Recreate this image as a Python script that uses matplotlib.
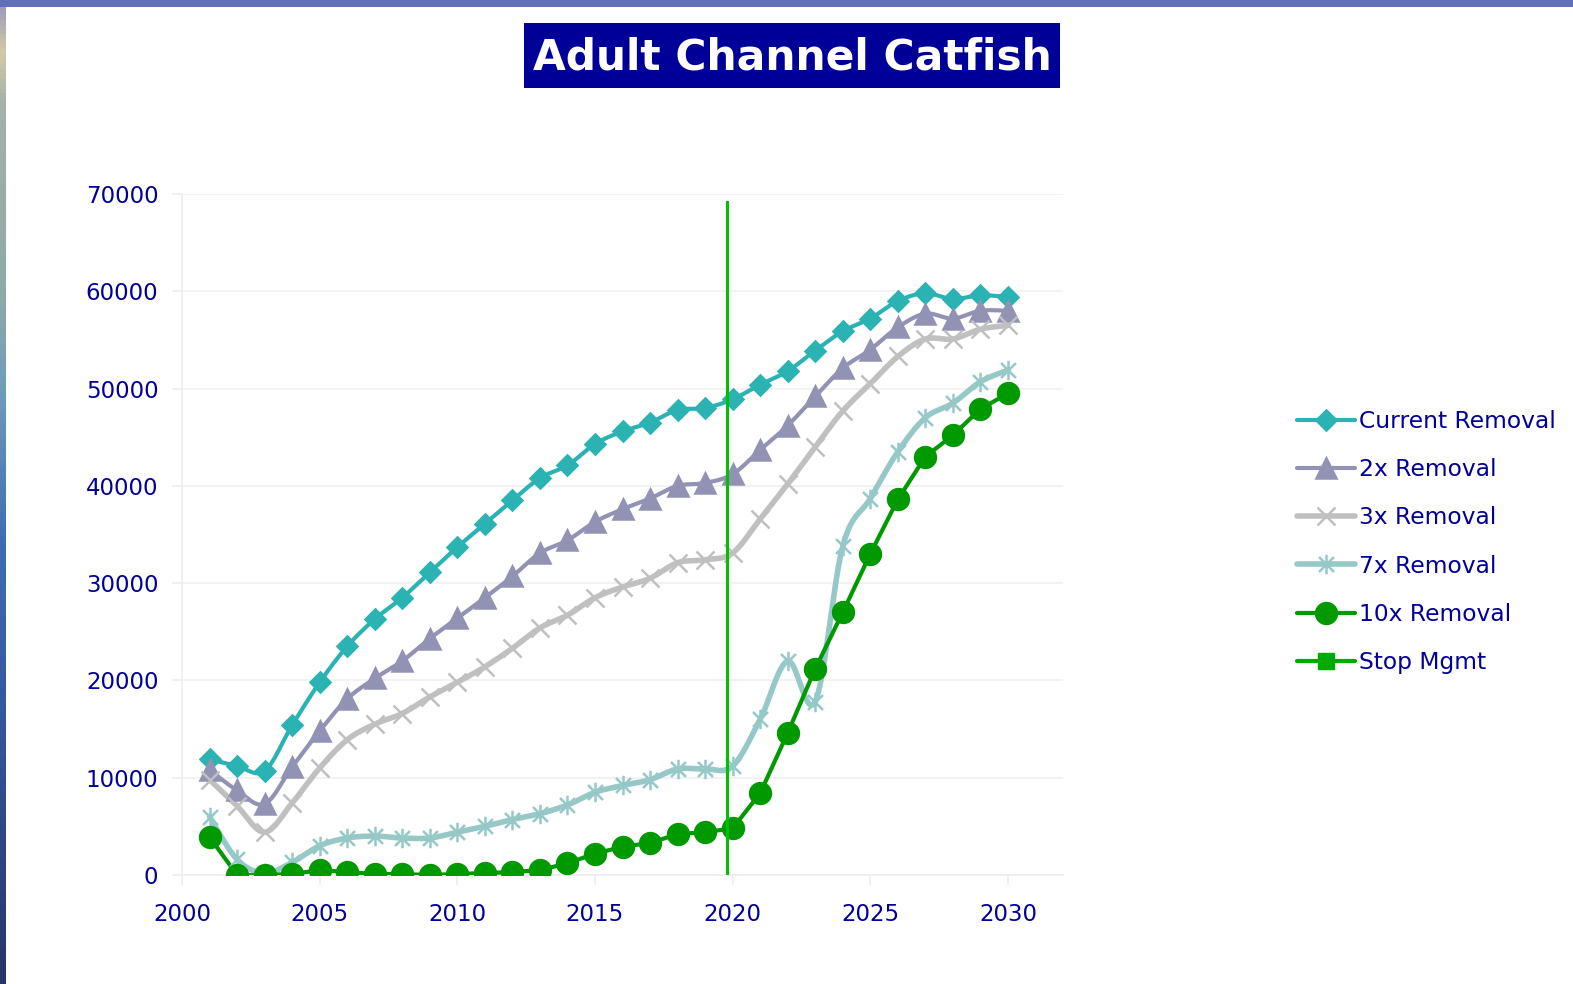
import numpy as np
import matplotlib
matplotlib.use('Agg')
import matplotlib.pyplot as plt
from matplotlib.path import Path
from matplotlib.patches import Rectangle
from matplotlib.colors import LinearSegmentedColormap

years = list(range(2001, 2031))

current_removal = [11900, 11200, 10700, 15400, 19800, 23500, 26300, 28500, 31100, 33700,
                   36100, 38500, 40800, 42100, 44300, 45600, 46500, 47800, 48000, 48900,
                   50400, 51800, 53900, 55900, 57200, 59000, 59800, 59200, 59600, 59400]
removal_2x = [10800, 8700, 7300, 11100, 14800, 18100, 20200, 22000, 24300, 26400,
              28500, 30700, 33100, 34400, 36300, 37600, 38700, 40000, 40300, 41200,
              43700, 46200, 49200, 52100, 54000, 56300, 57700, 57200, 58000, 58000]
removal_3x = [9800, 7100, 4400, 7400, 11000, 13900, 15500, 16600, 18300, 19800,
              21400, 23300, 25400, 26700, 28500, 29600, 30500, 32100, 32400, 33100,
              36600, 40200, 44000, 47700, 50500, 53300, 55100, 55100, 56100, 56500]
removal_7x = [6000, 1600, 200, 1300, 3000, 3800, 4000, 3800, 3800, 4400,
              5000, 5700, 6300, 7200, 8500, 9200, 9800, 10900, 10900, 11200,
              16000, 22000, 17800, 33800, 38700, 43500, 47000, 48500, 50700, 51900]
removal_10x = [3900, 0, 0, 100, 500, 300, 100, 100, 0, 100,
               200, 300, 500, 1200, 2200, 2900, 3300, 4200, 4400, 4800,
               8400, 14600, 21200, 27000, 33000, 38600, 43000, 45200, 47900, 49500]
stop_mgmt = []

mgmt_year = 2019.8

navy = '#000099'


def smooth(x, y, n=12):
    # Catmull-Rom curve through the points, like Excel's smoothed line
    x = np.asarray(x, float)
    y = np.asarray(y, float)
    px = np.concatenate([[x[0]], x, [x[-1]]])
    py = np.concatenate([[y[0]], y, [y[-1]]])
    xs, ys = [], []
    t = np.linspace(0, 1, n, endpoint=False)
    for i in range(1, len(px) - 2):
        p0, p1, p2, p3 = [np.array([px[j], py[j]]) for j in (i - 1, i, i + 1, i + 2)]
        c1 = p1 + (p2 - p0) / 6
        c2 = p2 - (p3 - p1) / 6
        b = ((1 - t) ** 3)[:, None] * p1 + (3 * (1 - t) ** 2 * t)[:, None] * c1 \
            + (3 * (1 - t) * t ** 2)[:, None] * c2 + (t ** 3)[:, None] * p2
        xs.extend(b[:, 0])
        ys.extend(b[:, 1])
    xs.append(x[-1])
    ys.append(y[-1])
    return xs, ys


star = Path([(-1, -1), (1, 1), (-1, 1), (1, -1), (0, -1.3), (0, 1.3)],
            [Path.MOVETO, Path.LINETO, Path.MOVETO, Path.LINETO, Path.MOVETO, Path.LINETO])

fig = plt.figure(figsize=(15.73, 9.84), dpi=100)

# slide background edges
edge = LinearSegmentedColormap.from_list('edge', [
    (0.0, '#9a9ab8'), (0.05, '#d2caa8'), (0.1, '#a4b2aa'), (0.3, '#8eaaa8'),
    (0.4, '#6c9cbc'), (0.55, '#3d6eb2'), (0.75, '#34549c'), (1.0, '#28346a')])
ex = fig.add_axes([0, 0, 6 / 1573, 1])
ex.imshow(np.linspace(0, 1, 200)[:, None], aspect='auto', cmap=edge)
ex.axis('off')
fig.patches.append(Rectangle((0, 1 - 7 / 984), 1, 7 / 984, transform=fig.transFigure,
                             facecolor='#6370b8', edgecolor='none'))

# title box
fig.patches.append(Rectangle((524 / 1573, 1 - 88 / 984), 536 / 1573, 65 / 984,
                             transform=fig.transFigure, facecolor=navy, edgecolor='none'))
fig.text(792 / 1573, 1 - 57 / 984, 'Adult Channel Catfish', color='white',
         fontsize=30.5, fontweight='bold', ha='center', va='center')

ax = fig.add_axes([182 / 1573, 1 - 875 / 984, 881 / 1573, 681 / 984])

series = [
    ('Current Removal', current_removal, '#2bb3b3', 'D', 10, 3.0, True),
    ('2x Removal', removal_2x, '#9292b4', '^', 14, 3.0, True),
    ('3x Removal', removal_3x, '#c0c0c0', 'x', 13, 4.0, True),
    ('7x Removal', removal_7x, '#96c8c8', star, 14, 4.0, True),
    ('10x Removal', removal_10x, '#009900', 'o', 15, 3.0, False),
]

handles = []
for label, vals, color, mk, ms, lw, curved in series:
    if curved:
        sx, sy = smooth(years, vals)
    else:
        sx, sy = years, vals
    ax.plot(sx, sy, color=color, lw=lw, solid_capstyle='round', zorder=3)
    ax.plot(years, vals, ls='none', marker=mk, ms=ms, color=color,
            mec=color, mew=1.8, zorder=4)
    h, = ax.plot([], [], color=color, lw=lw, marker=mk, ms=ms, mec=color, mew=1.8,
                 solid_capstyle='round')
    handles.append((h, label))

h, = ax.plot(years[:len(stop_mgmt)], stop_mgmt, color='#00aa00', lw=3, marker='s', ms=12,
             solid_capstyle='round')
handles.append((h, 'Stop Mgmt'))

ax.plot([mgmt_year, mgmt_year], [69200, 0], color='#00c000', lw=2.2, zorder=5)

ax.set_xlim(2000, 2032)
ax.set_ylim(0, 70000)
ax.set_xticks(range(2000, 2031, 5))
ax.set_yticks(range(0, 70001, 10000))
ax.grid(axis='y', color='#f0f0f0', lw=1.2)
ax.set_axisbelow(True)
for s in ['top', 'right']:
    ax.spines[s].set_visible(False)
for s in ['left', 'bottom']:
    ax.spines[s].set_color('#eeeeee')
    ax.spines[s].set_linewidth(1.2)
ax.tick_params(axis='y', colors='#eeeeee', labelcolor=navy, labelsize=16.5,
               length=7, width=1.2, pad=10)
ax.tick_params(axis='x', colors='#eeeeee', labelcolor=navy, labelsize=16.5,
               length=7, width=1.2, pad=13)

fig.legend([h for h, _ in handles], [l for _, l in handles],
           loc='upper left', bbox_to_anchor=(1297 / 1573, 1 - 410 / 984),
           frameon=False, fontsize=16.8, labelcolor=navy, handlelength=2.5,
           handletextpad=0.15, labelspacing=1.08, borderpad=0, borderaxespad=0)

fig.savefig('out.png', dpi=100)
